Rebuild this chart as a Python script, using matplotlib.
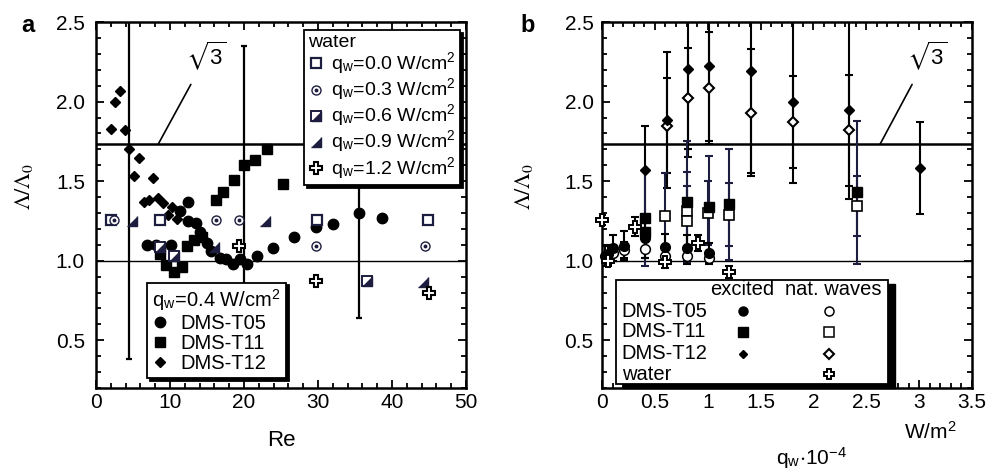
import numpy as np
import matplotlib.pyplot as plt
from matplotlib.ticker import MultipleLocator
from matplotlib.patches import Rectangle

plt.rcParams['font.family'] = ['Liberation Sans', 'DejaVu Sans']
plt.rcParams['mathtext.fontset'] = 'stix'
plt.rcParams['font.size'] = 15

# ---- panel a: wavelength ratio vs Re ----
t05_re = [6.9, 8.1, 10.2, 11.4, 12.4, 12.4, 13.5, 14.0, 15.0, 15.6, 16.8, 17.6,
          18.5, 19.5, 20.4, 21.8, 23.9, 26.8, 29.7, 32.0, 35.6, 38.6]
t05_l = [1.10, 1.10, 1.10, 1.31, 1.37, 1.25, 1.24, 1.18, 1.11, 1.06, 1.02, 1.01,
         0.98, 1.01, 0.98, 1.03, 1.08, 1.15, 1.21, 1.23, 1.30, 1.27]
t11_re = [8.65, 9.45, 10.6, 11.6, 12.25, 13.3, 14.3, 16.2, 17.2, 18.6, 20.0,
          21.5, 23.1, 25.3]
t11_l = [1.04, 0.975, 0.93, 0.96, 1.09, 1.13, 1.15, 1.38, 1.435, 1.51, 1.60,
         1.635, 1.70, 1.48]
t12_re = [2.0, 2.6, 3.3, 3.9, 4.5, 5.2, 5.85, 6.5, 7.2, 7.75, 8.4, 9.0, 9.7,
          10.3, 11.0]
t12_l = [1.83, 2.00, 2.07, 1.82, 1.70, 1.535, 1.645, 1.37, 1.38, 1.52, 1.395,
         1.365, 1.29, 1.335, 1.26]
# points carrying error bars in panel a
abar_re = [4.5, 20.0, 35.6]
abar_l = [1.70, 1.60, 1.30]
abar_err = [1.32, 0.75, 0.66]

w00_re = [2.0, 8.65, 29.8, 44.8]
w00_l = [1.255, 1.255, 1.255, 1.255]
w03_re = [2.4, 16.2, 19.3, 29.7, 44.5]
w03_l = [1.255, 1.255, 1.255, 1.095, 1.095]
w06_re = [8.65, 10.5, 36.6]
w06_l = [1.085, 1.03, 0.87]
w09_re = [4.8, 15.9, 22.8, 44.2]
w09_l = [1.25, 1.085, 1.25, 0.865]
w12_re = [19.3, 29.7, 45.0]
w12_l = [1.095, 0.875, 0.80]
water_labels = ['q$_\\mathregular{w}$=0.0 W/cm$^\\mathregular{2}$',
                'q$_\\mathregular{w}$=0.3 W/cm$^\\mathregular{2}$',
                'q$_\\mathregular{w}$=0.6 W/cm$^\\mathregular{2}$',
                'q$_\\mathregular{w}$=0.9 W/cm$^\\mathregular{2}$',
                'q$_\\mathregular{w}$=1.2 W/cm$^\\mathregular{2}$']
dms_labels = ['DMS-T05', 'DMS-T11', 'DMS-T12']

# ---- panel b: wavelength ratio vs heat flux ----
b05e_q = [0.03, 0.06, 0.107, 0.21, 0.407, 0.596, 0.807, 1.015]
b05e_l = [1.03, 1.04, 1.08, 1.095, 1.14, 1.085, 1.08, 1.05]
b05e_err = [0.06, 0.06, 0.08, 0.09, 0.12, 0.08, 0.08, 0.06]
b05n_q = [0.06, 0.107, 0.21, 0.407, 0.596, 0.807, 1.015]
b05n_l = [1.02, 1.05, 1.07, 1.075, 1.03, 1.03, 1.02]
b05n_err = [0.04, 0.05, 0.05, 0.06, 0.05, 0.05, 0.04]
b11e_q = [0.407, 0.407, 0.807, 1.015, 1.2, 2.41]
b11e_l = [1.27, 1.18, 1.37, 1.34, 1.355, 1.43]
b11e_err = [0.3, 0.1, 0.38, 0.32, 0.35, 0.45]
b11n_q = [0.596, 0.807, 0.807, 1.006, 1.2, 2.41]
b11n_l = [1.28, 1.31, 1.25, 1.30, 1.29, 1.345]
b11n_err = [0.27, 0.25, 0.22, 0.2, 0.2, 0.19]
b12e_q = [0.407, 0.612, 0.81, 1.012, 1.41, 1.81, 2.34, 3.01]
b12e_l = [1.57, 1.885, 2.205, 2.225, 2.19, 2.0, 1.95, 1.585]
b12e_err = [0.28, 0.43, 0.55, 0.47, 0.64, 0.51, 0.56, 0.29]
b12n_q = [0.612, 0.81, 1.012, 1.41, 1.81, 2.34]
b12n_l = [1.85, 2.02, 2.085, 1.93, 1.87, 1.82]
b12n_err = [0.3, 0.32, 0.35, 0.4, 0.29, 0.35]
bw_q = [0.0, 0.06, 0.312, 0.596, 0.905, 1.2]
bw_l = [1.255, 1.0, 1.215, 0.995, 1.11, 0.93]
bw_err = [0.03, 0.03, 0.06, 0.04, 0.05, 0.04]

sqrt3 = np.sqrt(3)
navy = '#1d1d3f'
tri = [(-1, -1), (1, -1), (1, 1)]   # lower-right triangle marker

fig = plt.figure(figsize=(10, 4.74), dpi=100)
axa = fig.add_axes([0.096, 0.1814, 0.37, 0.772])
axb = fig.add_axes([0.602, 0.1814, 0.37, 0.772])

for ax in (axa, axb):
    ax.set_ylim(0.2, 2.5)
    ax.yaxis.set_major_locator(MultipleLocator(0.5))
    ax.yaxis.set_minor_locator(MultipleLocator(0.1))
    ax.tick_params(which='both', direction='in', top=True, right=True, width=1.3,
                   labelsize=15)
    ax.tick_params(which='major', length=6)
    ax.tick_params(which='minor', length=3.5)
    for s in ax.spines.values():
        s.set_linewidth(1.8)
    ax.axhline(sqrt3, color='k', lw=1.8, zorder=1)
    ax.axhline(1.0, color='k', lw=1.0, zorder=1)
    ax.set_ylabel(r'$\Lambda/\Lambda_0$', fontsize=16)

# panel a
axa.set_xlim(0, 50)
axa.xaxis.set_major_locator(MultipleLocator(10))
axa.xaxis.set_minor_locator(MultipleLocator(2))
axa.tick_params(axis='y', pad=8)
axa.yaxis.set_label_coords(-0.165, 0.55)
axa.set_xlabel('Re', fontsize=16)
axa.xaxis.set_label_coords(0.5, -0.115)

axa.errorbar(abar_re, abar_l, yerr=abar_err, fmt='none', ecolor='k', elinewidth=1.6,
             capsize=2.5, capthick=1.6, zorder=2)
h05, = axa.plot(t05_re, t05_l, 'o', color='k', ms=7.5, ls='none', zorder=4)
h11, = axa.plot(t11_re, t11_l, 's', color='k', ms=7, ls='none', zorder=4)
h12, = axa.plot(t12_re, t12_l, 'D', color='k', ms=5, ls='none', zorder=4)

hw0, = axa.plot(w00_re, w00_l, 's', mfc='white', mec=navy, mew=1.6, ms=6.5, ls='none', zorder=5)
hw3a, = axa.plot(w03_re, w03_l, 'o', mfc='white', mec=navy, mew=1.0, ms=6.5, ls='none', zorder=5)
hw3b, = axa.plot(w03_re, w03_l, 'o', color=navy, ms=1.8, ls='none', zorder=6)
hw6a, = axa.plot(w06_re, w06_l, 's', mfc='white', mec=navy, mew=1.4, ms=6.5, ls='none', zorder=5)
hw6b, = axa.plot(w06_re, w06_l, marker=tri, color=navy, ms=6.5, ls='none', zorder=6)
hw9, = axa.plot(w09_re, w09_l, marker=tri, color=navy, ms=6.5, ls='none', zorder=5)
hw12, = axa.plot(w12_re, w12_l, 'P', mfc='white', mec='k', mew=1.5, ms=8.5, ls='none', zorder=5)

axa.annotate(r'$\sqrt{\mathregular{3}}$', xy=(8.4, sqrt3), xytext=(14.95, 2.29),
             ha='center', va='center', fontsize=16,
             arrowprops=dict(arrowstyle='-', lw=1.2, color='k', shrinkA=8, shrinkB=0))

shadow = {'color': 'k', 'alpha': 1}
leg1 = axa.legend([hw0, (hw3a, hw3b), (hw6a, hw6b), hw9, hw12], water_labels,
                  title='water', loc='upper right', bbox_to_anchor=(0.984, 0.978),
                  alignment='left', fontsize=14, title_fontsize=14, frameon=True,
                  fancybox=False, edgecolor='k', framealpha=1, shadow=shadow,
                  handlelength=0.8, handletextpad=0.4, labelspacing=0.0,
                  borderpad=0.2, borderaxespad=0)
leg1.get_frame().set_linewidth(1.3)
axa.add_artist(leg1)
leg2 = axa.legend([h05, h11, h12], dms_labels,
                  title='q$_\\mathregular{w}$=0.4 W/cm$^\\mathregular{2}$',
                  loc='lower left', bbox_to_anchor=(0.138, 0.027), alignment='left',
                  fontsize=14.5, title_fontsize=14.5, frameon=True, fancybox=False,
                  edgecolor='k', framealpha=1, shadow=shadow, handlelength=0.8,
                  handletextpad=0.6, labelspacing=0.05, borderpad=0.25, borderaxespad=0)
leg2.get_frame().set_linewidth(1.3)

# panel b
axb.set_xlim(0, 3.5)
axb.xaxis.set_major_locator(MultipleLocator(0.5))
axb.xaxis.set_minor_locator(MultipleLocator(0.1))
axb.xaxis.set_major_formatter(plt.FuncFormatter(lambda v, p: f'{v:g}'))
axb.tick_params(axis='y', pad=6)
axb.yaxis.set_label_coords(-0.181, 0.55)

ebkw = dict(fmt='none', elinewidth=1.5, capsize=3, capthick=1.5, zorder=2)
axb.errorbar(b12e_q, b12e_l, yerr=b12e_err, ecolor='k', **ebkw)
axb.errorbar(b12n_q, b12n_l, yerr=b12n_err, ecolor='k', **ebkw)
axb.errorbar(b11e_q, b11e_l, yerr=b11e_err, ecolor=navy, **ebkw)
axb.errorbar(b11n_q, b11n_l, yerr=b11n_err, ecolor=navy, **ebkw)
axb.errorbar(b05e_q, b05e_l, yerr=b05e_err, ecolor='k', **ebkw)
axb.errorbar(b05n_q, b05n_l, yerr=b05n_err, ecolor='k', **ebkw)
axb.errorbar(bw_q, bw_l, yerr=bw_err, ecolor='k', **ebkw)

mk = dict(ls='none', zorder=4, clip_on=False)
axb.plot(b05n_q, b05n_l, 'o', mfc='white', mec='k', mew=1.1, ms=7, **mk)
axb.plot(b05e_q, b05e_l, 'o', color='k', ms=7, **mk)
axb.plot(b11n_q, b11n_l, 's', mfc='white', mec='k', mew=1.2, ms=7, **mk)
axb.plot(b11e_q, b11e_l, 's', color='k', ms=7, **mk)
axb.plot(b12n_q, b12n_l, 'D', mfc='white', mec='k', mew=1.5, ms=5, **mk)
axb.plot(b12e_q, b12e_l, 'D', color='k', ms=5, **mk)
axb.plot(bw_q, bw_l, 'P', mfc='white', mec='k', mew=1.4, ms=8, **mk)

axb.annotate(r'$\sqrt{\mathregular{3}}$', xy=(2.63, sqrt3), xytext=(3.08, 2.29),
             ha='center', va='center', fontsize=16,
             arrowprops=dict(arrowstyle='-', lw=1.2, color='k', shrinkA=8, shrinkB=0))

# hand-made legend box for panel b
tr = axb.transAxes
axb.add_patch(Rectangle((0.057, 0.0), 0.735, 0.285, transform=tr, facecolor='k',
                        edgecolor='k', zorder=7, clip_on=False))
axb.add_patch(Rectangle((0.038, 0.011), 0.735, 0.284, transform=tr, facecolor='white',
                        edgecolor='k', lw=1.3, zorder=8, clip_on=False))
axb.text(0.378, 0.270, 'excited', transform=tr, ha='center', va='center', fontsize=14.5, zorder=9)
axb.text(0.624, 0.270, 'nat. waves', transform=tr, ha='center', va='center', fontsize=14.5, zorder=9)
rows_y = [0.210, 0.154, 0.093, 0.038]
for lab, yy in zip(dms_labels + ['water'], rows_y):
    axb.text(0.053, yy, lab, transform=tr, ha='left', va='center', fontsize=14.5, zorder=9)
lk = dict(transform=tr, ls='none', zorder=9, clip_on=False)
axb.plot(0.380, rows_y[0], 'o', color='k', ms=6.5, **lk)
axb.plot(0.380, rows_y[1], 's', color='k', ms=6.5, **lk)
axb.plot(0.380, rows_y[2], 'D', color='k', ms=4.5, **lk)
axb.plot(0.614, rows_y[0], 'o', mfc='white', mec='k', mew=1.1, ms=6.5, **lk)
axb.plot(0.614, rows_y[1], 's', mfc='white', mec='k', mew=1.1, ms=6.5, **lk)
axb.plot(0.614, rows_y[2], 'D', mfc='white', mec='k', mew=1.5, ms=5, **lk)
axb.plot(0.614, rows_y[3], 'P', mfc='white', mec='k', mew=1.4, ms=7.5, **lk)

fig.text(0.930, 0.089, 'W/m$^\\mathregular{2}$', ha='center', va='center', fontsize=15)
fig.text(0.812, 0.033, 'q$_\\mathregular{w}$$\\cdot$10$^\\mathregular{-4}$', ha='center',
         va='center', fontsize=15)
fig.text(0.028, 0.947, 'a', ha='center', va='center', fontsize=17, weight='bold')
fig.text(0.528, 0.947, 'b', ha='center', va='center', fontsize=17, weight='bold')

fig.savefig('out.png', dpi=100)
